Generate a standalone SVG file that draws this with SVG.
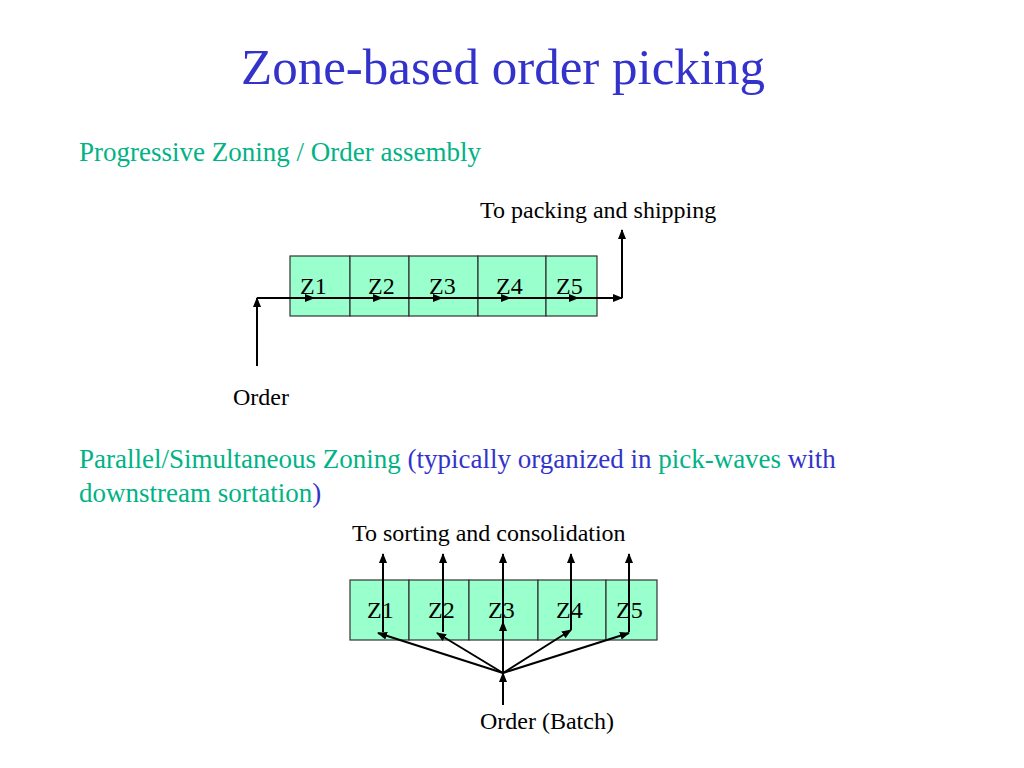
<svg xmlns="http://www.w3.org/2000/svg" width="1024" height="768" viewBox="0 0 1024 768">
<style>
text{font-family:"Liberation Serif",serif}
.t{font-size:51px;fill:#3333cc}
.g{font-size:27px;fill:#00b386}
.b{fill:#3333cc}
.l{font-size:24px;fill:#000}
.z{font-size:24px;fill:#000}
rect{fill:#99ffcc;stroke:#333;stroke-width:1.2}
line{stroke:#000;stroke-width:2}
</style>
<defs><marker id="a" markerWidth="10" markerHeight="10" refX="9" refY="5" orient="auto" markerUnits="userSpaceOnUse"><path d="M0,1 L10,5 L0,9 Z" fill="#000"/></marker></defs>
<text class="t" x="503" y="84" text-anchor="middle">Zone-based order picking</text>
<text class="g" x="79" y="161">Progressive Zoning / Order assembly</text>
<text class="l" x="480" y="218">To packing and shipping</text>
<text class="l" x="233" y="405">Order</text>
<text class="g" x="79" y="468">Parallel/Simultaneous Zoning <tspan class="b">(typically organized in </tspan>pick-waves<tspan class="b"> with</tspan></text>
<text class="g" x="79" y="502">downstream sortation<tspan class="b">)</tspan></text>
<text class="l" x="352" y="541">To sorting and consolidation</text>
<text class="l" x="480" y="729">Order (Batch)</text>
<g id="top">
<g id="t1"><rect x="290" y="256" width="60" height="60"/><text class="z" x="300" y="294">Z1</text></g>
<g id="t2"><rect x="350" y="256" width="59" height="60"/><text class="z" x="368" y="294">Z2</text></g>
<g id="t3"><rect x="409" y="256" width="69" height="60"/><text class="z" x="429" y="294">Z3</text></g>
<g id="t4"><rect x="478" y="256" width="68" height="60"/><text class="z" x="496" y="294">Z4</text></g>
<g id="t5"><rect x="546" y="256" width="51" height="60"/><text class="z" x="556" y="294">Z5</text></g>
</g>
<g id="bottom">
<g id="b1"><rect x="350" y="580" width="59" height="60"/><text class="z" x="367" y="618">Z1</text></g>
<g id="b2"><rect x="409" y="580" width="60" height="60"/><text class="z" x="428" y="618">Z2</text></g>
<g id="b3"><rect x="469" y="580" width="69" height="60"/><text class="z" x="488" y="618">Z3</text></g>
<g id="b4"><rect x="538" y="580" width="68" height="60"/><text class="z" x="556" y="618">Z4</text></g>
<g id="b5"><rect x="606" y="580" width="51" height="60"/><text class="z" x="616" y="618">Z5</text></g>
</g>
<g id="connectors">
<line x1="257" y1="366" x2="257" y2="298" marker-end="url(#a)"/>
<line x1="257" y1="298" x2="314" y2="298" marker-end="url(#a)"/>
<line x1="314" y1="298" x2="382" y2="298" marker-end="url(#a)"/>
<line x1="382" y1="298" x2="442" y2="298" marker-end="url(#a)"/>
<line x1="442" y1="298" x2="510" y2="298" marker-end="url(#a)"/>
<line x1="510" y1="298" x2="578" y2="298" marker-end="url(#a)"/>
<line x1="578" y1="298" x2="622" y2="298" marker-end="url(#a)"/>
<line x1="622" y1="298" x2="622" y2="230" marker-end="url(#a)"/>
<line x1="503" y1="705" x2="503" y2="673" marker-end="url(#a)"/>
<line x1="503" y1="673" x2="503" y2="622" marker-end="url(#a)"/>
<line x1="503" y1="622" x2="503" y2="554" marker-end="url(#a)"/>
<line x1="503" y1="673" x2="378" y2="633" marker-end="url(#a)"/>
<line x1="503" y1="673" x2="437" y2="633" marker-end="url(#a)"/>
<line x1="503" y1="673" x2="571" y2="630" marker-end="url(#a)"/>
<line x1="503" y1="673" x2="629" y2="633" marker-end="url(#a)"/>
<line x1="383" y1="632" x2="383" y2="554" marker-end="url(#a)"/>
<line x1="443" y1="632" x2="443" y2="554" marker-end="url(#a)"/>
<line x1="571" y1="630" x2="571" y2="554" marker-end="url(#a)"/>
<line x1="629" y1="632" x2="629" y2="554" marker-end="url(#a)"/>
</g>
</svg>
